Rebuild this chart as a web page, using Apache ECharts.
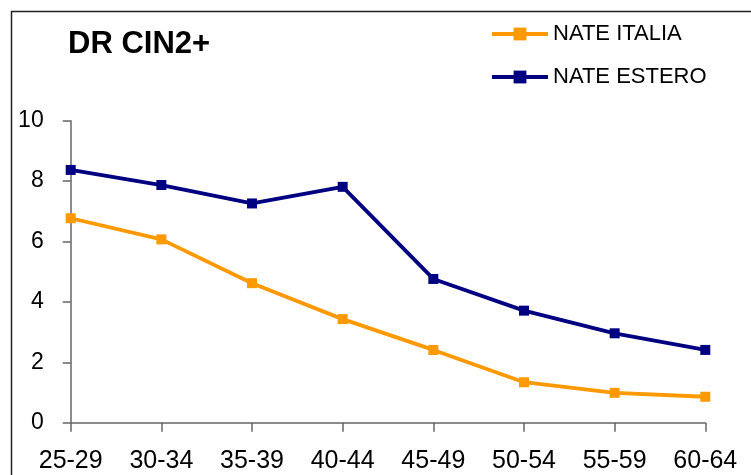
<!DOCTYPE html>
<html>
<head>
<meta charset="utf-8">
<script src="https://cdn.jsdelivr.net/npm/echarts@6/dist/echarts.min.js"></script>
<style>html,body{margin:0;padding:0;background:#fff}#c{width:751px;height:475px}</style>
</head>
<body>
<div id="c"></div>
<script>
const categories = ['25-29','30-34','35-39','40-44','45-49','50-54','55-59','60-64'];
const nateItalia = [6.77, 6.07, 4.62, 3.43, 2.41, 1.34, 0.99, 0.86];
const nateEstero = [8.37, 7.87, 7.26, 7.81, 4.76, 3.71, 2.96, 2.41];
const seriesNames = ['NATE ITALIA', 'NATE ESTERO'];
const titleText = 'DR CIN2+';

const chart = echarts.init(document.getElementById('c'), null, {renderer: 'canvas'});
const font = 'Liberation Sans, Arial, sans-serif';
chart.setOption({
  animation: false,
  backgroundColor: '#fff',
  graphic: [{
    type: 'rect', left: 9, top: 9, shape: {width: 800, height: 500},
    style: {fill: 'none', stroke: '#222', lineWidth: 1.5}, silent: true
  }],
  title: {
    text: titleText, left: 63, top: 24,
    textStyle: {fontFamily: font, fontWeight: 'bold', fontSize: 31, color: '#000'}
  },
  legend: {
    orient: 'vertical', left: 485, top: 18,
    itemWidth: 56, itemHeight: 16, itemGap: 21,
    lineStyle: {width: 4},
    textStyle: {fontFamily: font, fontSize: 22, color: '#000', lineHeight: 22},
    data: seriesNames
  },
  grid: {left: 70.7, right: 45.7, top: 120.7, bottom: 52.3, containLabel: false},
  xAxis: {
    type: 'category', data: categories, boundaryGap: false,
    axisLine: {lineStyle: {color: '#666', width: 1.5}},
    axisTick: {show: true, length: 9, lineStyle: {color: '#666', width: 1.5}},
    axisLabel: {fontFamily: font, fontSize: 25, color: '#000', margin: 26},
    splitLine: {show: false}
  },
  yAxis: {
    type: 'value', min: 0, max: 10, interval: 2,
    axisLine: {show: true, lineStyle: {color: '#666', width: 1.5}},
    axisTick: {show: true, length: 8, lineStyle: {color: '#666', width: 1.5}},
    axisLabel: {fontFamily: font, fontSize: 23, color: '#000', margin: 27},
    splitLine: {show: false}
  },
  series: [
    {name: seriesNames[0], type: 'line', data: nateItalia, symbol: 'rect', symbolSize: 10,
     lineStyle: {color: '#FF9900', width: 3.8}, itemStyle: {color: '#FF9900'}},
    {name: seriesNames[1], type: 'line', data: nateEstero, symbol: 'rect', symbolSize: 10,
     lineStyle: {color: '#000080', width: 3.8}, itemStyle: {color: '#000080'}}
  ]
});
</script>
</body>
</html>
